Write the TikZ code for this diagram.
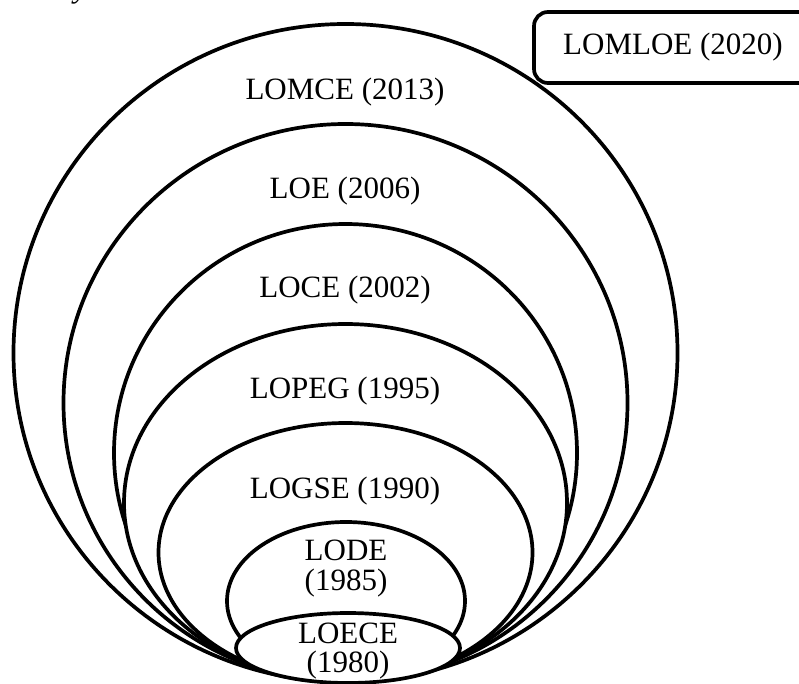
\documentclass[tikz,border=0pt]{standalone}
\usepackage{fontspec}
\setmainfont{Liberation Serif}
\usetikzlibrary{shapes.geometric}
\begin{document}
\begin{tikzpicture}[x=1pt,y=-1pt,
  ring/.style={draw, ellipse, fill=white, line width=3.7pt, inner sep=0pt},
  lbl/.style={anchor=base, inner sep=0pt, font=\fontsize{31}{31}\selectfont},
  tagbox/.style={draw, fill=white, rounded corners=14pt, line width=3.7pt,
                 inner sep=0pt, font=\fontsize{31}{31}\selectfont}]
\clip (0,0) rectangle (799,684);

% fragment of the caption line above
\node[anchor=base west, inner sep=0pt, font=\fontsize{31}{31}\selectfont\itshape] (cap) at (74,-2.5) {y};

% nested laws, all touching at the bottom
\node[ring, minimum width=664, minimum height=658] (lomce) at (345.5,353) {};
\node[ring, minimum width=564, minimum height=558] (loe)   at (345.5,403) {};
\node[ring, minimum width=463, minimum height=458] (loce)  at (345.5,453) {};
\node[ring, minimum width=443, minimum height=358] (lopeg) at (345.5,503) {};
\node[ring, minimum width=374, minimum height=259] (logse) at (345.5,552.5) {};
\node[ring, minimum width=238, minimum height=158] (lode)  at (346,601) {};
\node[ring, minimum width=224, minimum height=70]  (loece) at (348,648) {};

% labels
\node[lbl] (t-lomce) at (345,100) {LOMCE (2013)};
\node[lbl] (t-loe)   at (345,199) {LOE (2006)};
\node[lbl] (t-loce)  at (345,297) {LOCE (2002)};
\node[lbl] (t-lopeg) at (345,398) {LOPEG (1995)};
\node[lbl] (t-logse) at (345,498) {LOGSE (1990)};
\node[lbl] (t-lode1) at (346,560) {LODE};
\node[lbl] (t-lode2) at (346,590) {(1985)};
\node[lbl] (t-loece1) at (348,643) {LOECE};
\node[lbl] (t-loece2) at (348,672) {(1980)};

% the newest law, outside the rings
\node[tagbox, minimum width=278, minimum height=71] (lomloe) at (673,47.5) {LOMLOE (2020)};
\end{tikzpicture}
\end{document}
